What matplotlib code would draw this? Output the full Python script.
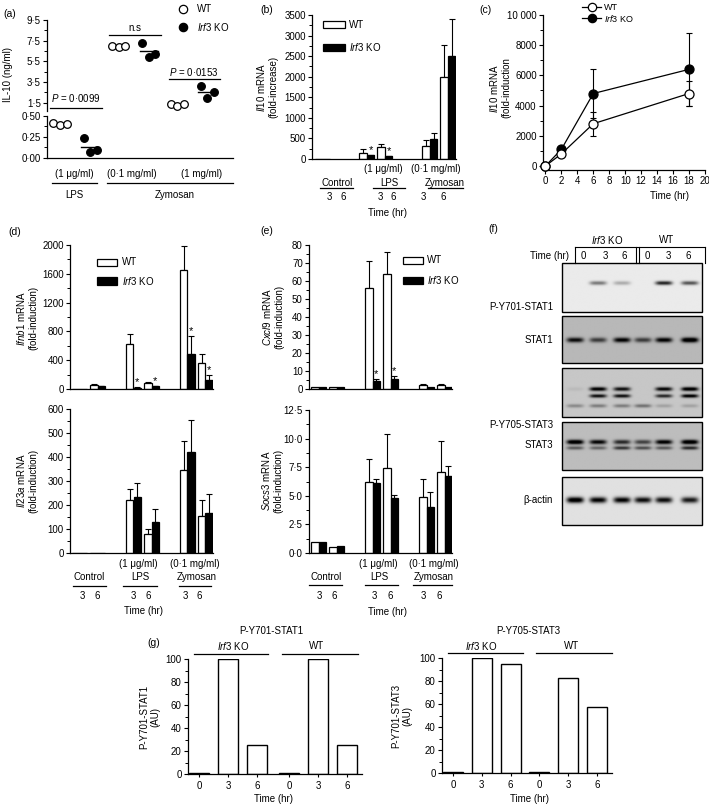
import numpy as np
import matplotlib
matplotlib.use('Agg')
import matplotlib.pyplot as plt
from matplotlib.lines import Line2D
from matplotlib.patches import Rectangle
from matplotlib.ticker import MultipleLocator, FuncFormatter

plt.rcParams['font.family'] = ['Liberation Sans', 'DejaVu Sans']
plt.rcParams['mathtext.fontset'] = 'custom'
plt.rcParams['mathtext.rm'] = 'Liberation Sans'
plt.rcParams['mathtext.it'] = 'Liberation Sans:italic'
plt.rcParams['font.size'] = 7

# ---------------- data ----------------
# (a) IL-10 protein (ng/ml), three mice each
a_wt_lps = [0.42, 0.39, 0.40]
a_ko_lps = [0.24, 0.07, 0.09]
a_wt_zy01 = [7.0, 6.9, 7.0]
a_ko_zy01 = [7.3, 5.9, 6.2]
a_wt_zy1 = [1.4, 1.2, 1.4]
a_ko_zy1 = [3.1, 2.0, 2.5]

# bar order: control 3h, control 6h, LPS 3h, LPS 6h, zymosan 3h, zymosan 6h
b_wt = [1, 1, 145, 290, 325, 2000]
b_wt_err = [0, 0, 95, 80, 140, 770]
b_ko = [1, 1, 90, 65, 490, 2500]
b_ko_err = [0, 0, 15, 10, 140, 900]

c_time = [0, 2, 6, 18]
c_wt = [0, 800, 2800, 4800]
c_wt_err = [0, 0, 800, 800]
c_ko = [0, 1100, 4800, 6400]
c_ko_err = [0, 0, 1600, 2400]

ifnb1_wt = [1, 60, 620, 80, 1650, 360]
ifnb1_wt_err = [0, 10, 140, 20, 330, 120]
ifnb1_ko = [1, 40, 20, 35, 490, 130]
ifnb1_ko_err = [0, 5, 5, 5, 250, 60]

il23a_wt = [1, 1, 220, 80, 345, 155]
il23a_wt_err = [0, 0, 45, 20, 120, 65]
il23a_ko = [1, 1, 235, 130, 420, 165]
il23a_ko_err = [0, 0, 55, 55, 135, 80]

cxcl9_wt = [1, 1, 56, 64, 2.2, 2.2]
cxcl9_wt_err = [0, 0, 15, 12, 0.3, 0.3]
cxcl9_ko = [1, 1, 4.5, 5.5, 1, 1]
cxcl9_ko_err = [0, 0, 1, 1.5, 0, 0]

socs3_wt = [1.0, 0.55, 6.2, 7.4, 4.9, 7.1]
socs3_wt_err = [0, 0, 2.0, 3.0, 1.6, 2.7]
socs3_ko = [1.0, 0.6, 6.1, 4.8, 4.0, 6.7]
socs3_ko_err = [0, 0, 0.4, 0.3, 1.3, 0.9]

# western blot band intensities per lane (KO 0,3,6 | WT 0,3,6)
pstat1_band = [0, 0.45, 0.25, 0, 0.8, 0.6]
stat1_band = [0.7, 0.5, 0.75, 0.5, 0.75, 0.9]
pstat3_band_top = [0.05, 0.85, 0.75, 0, 0.8, 0.9]
pstat3_band_low = [0, 0.75, 0.75, 0, 0.65, 0.85]
pstat3_band_faint = [0.25, 0.3, 0.3, 0.35, 0.15, 0.15]
stat3_band_top = [0.9, 0.75, 0.6, 0.5, 0.8, 0.9]
stat3_band_low = [0.4, 0.35, 0.55, 0.45, 0.4, 0.6]
actin_band = [1.0, 0.9, 0.9, 0.85, 0.85, 0.8]

g_labels = ['0', '3', '6', '0', '3', '6']
g_pstat1 = [1, 100, 25, 1, 100, 25]
g_pstat3 = [1, 100, 95, 1, 83, 57]

# ---------------- helpers ----------------
W, H = 709, 805
fig = plt.figure(figsize=(W / 100, H / 100), dpi=100)


def box(x0, y0, x1, y1):
    return fig.add_axes([x0 / W, 1 - y1 / H, (x1 - x0) / W, (y1 - y0) / H])


def ftext(x, y, s, **kw):
    kw.setdefault('ha', 'center')
    kw.setdefault('va', 'center')
    kw.setdefault('fontsize', 7)
    fig.text(x / W, 1 - y / H, s, **kw)


def fline(x0, x1, y, lw=0.9):
    fig.add_artist(Line2D([x0 / W, x1 / W], [1 - y / H, 1 - y / H], color='k', lw=lw))


def frect(x0, y0, x1, y1, fc):
    fig.add_artist(Rectangle((x0 / W, 1 - y1 / H), (x1 - x0) / W, (y1 - y0) / H,
                             fc=fc, ec='k', lw=0.9, transform=fig.transFigure))


def style(ax, xaxis=False):
    for s in ['top', 'right']:
        ax.spines[s].set_visible(False)
    for s in ['left', 'bottom']:
        ax.spines[s].set_linewidth(0.9)
    ax.tick_params(direction='out', length=3, width=0.8, labelsize=7, pad=1.5)
    ax.tick_params(which='minor', length=2, width=0.7)
    if not xaxis:
        ax.set_xticks([])


dot1 = FuncFormatter(lambda v, p: f'{v:.1f}'.replace('.', '·'))
dot2 = FuncFormatter(lambda v, p: f'{v:.2f}'.replace('.', '·'))


def bar_panel(ax, centers, wt, wt_err, ko, ko_err, stars=()):
    xs_wt, xs_ko = [], []
    for c in centers:
        for t in (0, 1):
            pc = c + (t - 0.5) * 18
            xs_wt.append(pc - 3.75)
            xs_ko.append(pc + 3.75)
    ax.bar(xs_wt, wt, width=7.5, color='white', edgecolor='k', lw=0.9, zorder=2)
    ax.bar(xs_ko, ko, width=7.5, color='k', edgecolor='k', lw=0.9, zorder=2)
    for xs, v, e in ((xs_wt, wt, wt_err), (xs_ko, ko, ko_err)):
        for x, vv, ee in zip(xs, v, e):
            if ee > 0:
                ax.errorbar(x, vv, yerr=[[0], [ee]], fmt='none', ecolor='k',
                            elinewidth=0.8, capsize=2.2, capthick=0.8, zorder=1)
    for i in stars:
        ax.text(xs_ko[i], ko[i] + ko_err[i], '*', ha='center', va='bottom', fontsize=8)


def below_labels(items, lines, nums, num_y, time_xy):
    for x, y, s in items:
        ftext(x, y, s)
    for x0, x1, y in lines:
        fline(x0, x1, y)
    for x, s in zip(nums, ['3', '6'] * 3):
        ftext(x, num_y, s)
    ftext(time_xy[0], time_xy[1], 'Time (hr)')


# ---------------- (a) ----------------
axa_u = box(47, 20, 233, 111)
axa_l = box(47, 116, 233, 158)
for ax in (axa_u, axa_l):
    style(ax)
    ax.set_xlim(0, 186)
axa_u.spines['bottom'].set_visible(False)
axa_u.set_ylim(0.7, 9.5)
axa_u.set_yticks([1.5, 3.5, 5.5, 7.5, 9.5])
axa_u.set_yticks([2.5, 4.5, 6.5, 8.5], minor=True)
axa_u.yaxis.set_major_formatter(dot1)
axa_l.set_ylim(0, 0.5)
axa_l.set_yticks([0, 0.25, 0.5])
axa_l.set_yticks([0.125, 0.375], minor=True)
axa_l.yaxis.set_major_formatter(dot2)

a_sets = [(a_wt_lps, a_ko_lps), (a_wt_zy01, a_ko_zy01), (a_wt_zy1, a_ko_zy1)]
jit = np.array([-6.5, 0, 6.5])
for g, (wt, ko) in enumerate(a_sets):
    ax = axa_l if g == 0 else axa_u
    cw = 13 + 58.5 * g
    for c, vals, fc in ((cw, wt, 'white'), (cw + 30, ko, 'k')):
        ax.plot(c + jit, vals, 'o', ms=5.5, mfc=fc, mec='k', mew=0.9, clip_on=False, zorder=3)
        ax.plot([c - 9, c + 9], [np.mean(vals)] * 2, color='k', lw=1, zorder=2)

axa_u.plot([3, 55], [1.02, 1.02], color='k', lw=0.9, clip_on=False)
axa_u.text(29, 1.95, r'$\mathit{P}$ = 0·0099', ha='center', va='center', fontsize=7)
axa_u.plot([62, 114], [8.05, 8.05], color='k', lw=0.9)
axa_u.text(88, 8.75, 'n.s', ha='center', va='center', fontsize=7)
axa_u.plot([122, 173], [3.8, 3.8], color='k', lw=0.9)
axa_u.text(147, 4.5, r'$\mathit{P}$ = 0·0153', ha='center', va='center', fontsize=7)

ftext(8, 75, 'IL-10 (ng/ml)', rotation=90)
ftext(74, 174, '(1 μg/ml)')
ftext(132, 174, '(0·1 mg/ml)')
ftext(202, 174, '(1 mg/ml)')
fline(52, 97, 183)
fline(107, 233, 183)
ftext(74, 195, 'LPS')
ftext(175, 195, 'Zymosan')
fig.add_artist(Line2D([183 / W], [1 - 9 / H], marker='o', ms=6, mfc='white', mec='k', mew=0.9))
fig.add_artist(Line2D([183 / W], [1 - 27 / H], marker='o', ms=6, mfc='k', mec='k', mew=0.9))
ftext(197, 9, 'WT', ha='left')
ftext(197, 27, r'$\mathit{Irf3}$ KO', ha='left')
ftext(10, 14, '(a)', fontsize=7.5)

# ---------------- (b) ----------------
axb_ = box(312, 15, 456, 159)
style(axb_)
axb_.set_xlim(0, 144)
axb_.set_ylim(0, 3500)
axb_.yaxis.set_major_locator(MultipleLocator(500))
axb_.yaxis.set_minor_locator(MultipleLocator(250))
bar_panel(axb_, [1, 63.75, 126.75], b_wt, b_wt_err, b_ko, b_ko_err, stars=(2, 3))
ftext(267, 87, '$\\mathit{Il10}$ mRNA\n(fold-increase)', rotation=90, linespacing=1.2)
frect(323, 21, 345, 28, 'white')
frect(323, 44, 345, 51, 'k')
ftext(349, 25, 'WT', ha='left')
ftext(349, 47, r'$\mathit{Irf3}$ KO', ha='left')
below_labels([(383, 169, '(1 μg/ml)'), (436, 169, '(0·1 mg/ml)'), (337, 183, 'Control'),
              (389, 183, 'LPS'), (445, 183, 'Zymosan')],
             [(320, 353, 188), (373, 405, 188), (428, 463, 188)],
             [329, 343, 380, 393, 423, 443], 197, (388, 213))
ftext(267, 10, '(b)', fontsize=7.5)

# ---------------- (c) ----------------
axc = box(543, 15, 705, 170)
style(axc, xaxis=True)
axc.set_xlim(-0.3, 20)
axc.set_ylim(-265, 10000)
axc.set_xticks(range(0, 21, 2))
axc.set_yticks(range(0, 10001, 2000))
axc.yaxis.set_minor_locator(MultipleLocator(1000))
axc.yaxis.set_major_formatter(FuncFormatter(lambda v, p: '10 000' if v >= 10000 else f'{int(v)}'))
for vals, err in ((c_ko, c_ko_err), (c_wt, c_wt_err)):
    axc.errorbar(c_time, vals, yerr=err, fmt='none', ecolor='k', elinewidth=0.8,
                 capsize=2.5, capthick=0.8, zorder=2)
for vals, fc, z in ((c_ko, 'k', 3), (c_wt, 'white', 4)):
    axc.plot(c_time, vals, '-o', color='k', lw=0.9, ms=6.5, mfc=fc, mec='k', mew=0.9,
             clip_on=False, zorder=z)
ftext(500, 88, '$\\mathit{Il10}$ mRNA\n(fold-induction', rotation=90, linespacing=1.2)
ftext(670, 196, 'Time (hr)')
for y, fc, lab in ((7, 'white', 'WT'), (18, 'k', r'$\mathit{Irf3}$ KO')):
    fig.add_artist(Line2D([582 / W, 601 / W], [1 - y / H] * 2, color='k', lw=0.9))
    fig.add_artist(Line2D([592 / W], [1 - y / H], marker='o', ms=6, mfc=fc, mec='k', mew=0.9))
    ftext(604, y, lab, ha='left', fontsize=6.5)
ftext(485, 10, '(c)', fontsize=7.5)

# ---------------- (d) ----------------
de_centers = [18.5, 72.5, 126.5]
axd1 = box(70, 245, 213, 389)
style(axd1)
axd1.set_xlim(0, 143)
axd1.set_ylim(0, 2000)
axd1.yaxis.set_major_locator(MultipleLocator(400))
axd1.yaxis.set_minor_locator(MultipleLocator(200))
bar_panel(axd1, de_centers, ifnb1_wt, ifnb1_wt_err, ifnb1_ko, ifnb1_ko_err, stars=(2, 3, 4, 5))
ftext(27, 318, '$\\mathit{Ifnb1}$ mRNA\n(fold-induction)', rotation=90, linespacing=1.2)
frect(97, 259, 117, 266, 'white')
frect(97, 277, 117, 285, 'k')
ftext(122, 262, 'WT', ha='left')
ftext(122, 281, r'$\mathit{Irf3}$ KO', ha='left')

axd2 = box(70, 409, 213, 553)
style(axd2)
axd2.set_xlim(0, 143)
axd2.set_ylim(0, 600)
axd2.yaxis.set_major_locator(MultipleLocator(100))
axd2.yaxis.set_minor_locator(MultipleLocator(50))
bar_panel(axd2, de_centers, il23a_wt, il23a_wt_err, il23a_ko, il23a_ko_err)
ftext(27, 481, '$\\mathit{Il23a}$ mRNA\n(fold-induction)', rotation=90, linespacing=1.2)
below_labels([(138, 564, '(1 μg/ml)'), (195, 564, '(0·1 mg/ml)'), (89, 577, 'Control'),
              (140, 577, 'LPS'), (197, 577, 'Zymosan')],
             [(73, 106, 586), (123, 157, 586), (179, 211, 586)],
             [82, 97, 133, 148, 185, 199], 596, (143, 611))
ftext(15, 232, '(d)', fontsize=7.5)

# ---------------- (e) ----------------
axe1 = box(309, 245, 452, 389)
style(axe1)
axe1.set_xlim(0, 143)
axe1.set_ylim(0, 80)
axe1.yaxis.set_major_locator(MultipleLocator(10))
axe1.yaxis.set_minor_locator(MultipleLocator(5))
bar_panel(axe1, de_centers, cxcl9_wt, cxcl9_wt_err, cxcl9_ko, cxcl9_ko_err, stars=(2, 3))
ftext(273, 317, '$\\mathit{Cxcl9}$ mRNA\n(fold-induction)', rotation=90, linespacing=1.2)
frect(403, 257, 423, 264, 'white')
frect(403, 277, 423, 284, 'k')
ftext(427, 260, 'WT', ha='left')
ftext(427, 280, r'$\mathit{Irf3}$ KO', ha='left')

axe2 = box(309, 410, 452, 553)
style(axe2)
axe2.set_xlim(0, 143)
axe2.set_ylim(0, 12.5)
axe2.yaxis.set_major_locator(MultipleLocator(2.5))
axe2.yaxis.set_minor_locator(MultipleLocator(1.25))
axe2.yaxis.set_major_formatter(dot1)
bar_panel(axe2, de_centers, socs3_wt, socs3_wt_err, socs3_ko, socs3_ko_err)
ftext(272, 481, '$\\mathit{Socs3}$ mRNA\n(fold-induction)', rotation=90, linespacing=1.2)
below_labels([(378, 564, '(1 μg/ml)'), (434, 564, '(0·1 mg/ml)'), (326, 577, 'Control'),
              (379, 577, 'LPS'), (434, 577, 'Zymosan')],
             [(309, 342, 585), (365, 398, 585), (413, 452, 585)],
             [319, 334, 374, 390, 423, 439], 596, (387, 612))
ftext(267, 231, '(e)', fontsize=7.5)

# ---------------- (f) western blot ----------------
axf = box(480, 230, 709, 530)
lane_x = [575, 598, 622, 643, 664, 690]
blot_panels = [
    (263, 312, 0.92, [(283, 2.0, pstat1_band)]),
    (316, 363, 0.72, [(340, 2.5, stat1_band)]),
    (368, 417, 0.78, [(389, 2.0, pstat3_band_top), (396, 1.8, pstat3_band_low),
                      (406, 1.8, pstat3_band_faint)]),
    (422, 470, 0.74, [(442, 2.3, stat3_band_top), (448, 1.8, stat3_band_low)]),
    (477, 525, 0.88, [(500, 3.0, actin_band)]),
]
blot_labels = [('P-Y701-STAT1', 307), ('STAT1', 340), ('P-Y705-STAT3', 425),
               ('STAT3', 445), ('β-actin', 500)]
xx = np.linspace(562, 702, 281)
for y0, y1, bg, bands in blot_panels:
    yy = np.linspace(y0, y1, int((y1 - y0) * 2) + 1)
    img = np.full((len(yy), len(xx)), bg)
    for yc, wy, inten in bands:
        for lx, a in zip(lane_x, inten):
            img -= a * np.exp(-((xx[None, :] - lx) / 8.5) ** 4) * np.exp(-((yy[:, None] - yc) / wy) ** 2)
    axf.imshow(np.clip(img, 0, 1), cmap='gray', vmin=0, vmax=1, extent=[562, 702, y1, y0],
               aspect='auto', interpolation='bilinear')
    axf.add_patch(Rectangle((562, y0), 140, y1 - y0, fill=False, ec='k', lw=1))
for lab, y in blot_labels:
    axf.text(553, y, lab, ha='right', va='center', fontsize=7)
axf.plot([575, 705], [247, 247], color='k', lw=0.8)
for x in (575, 636, 639, 705):
    axf.plot([x, x], [247, 263], color='k', lw=0.8)
axf.text(607, 240, r'$\mathit{Irf3}$ KO', ha='center', va='center', fontsize=7)
axf.text(667, 240, 'WT', ha='center', va='center', fontsize=7)
axf.text(569, 256, 'Time (hr)', ha='right', va='center', fontsize=7)
for x, s in zip([583, 605, 624, 647, 668, 688], g_labels):
    axf.text(x, 256, s, ha='center', va='center', fontsize=7)
axf.set_xlim(480, 709)
axf.set_ylim(530, 230)
axf.axis('off')
ftext(493, 229, '(f)', fontsize=7.5)

# ---------------- (g) ----------------
def g_panel(x0, y0, x1, y1, xpos, vals, xlim):
    ax = box(x0, y0, x1, y1)
    style(ax, xaxis=True)
    ax.bar(xpos, vals, width=0.69, color='white', edgecolor='k', lw=1)
    ax.set_xlim(*xlim)
    ax.set_ylim(0, 100)
    ax.yaxis.set_major_locator(MultipleLocator(20))
    ax.yaxis.set_minor_locator(MultipleLocator(10))
    ax.set_xticks(xpos)
    ax.set_xticklabels(g_labels)
    ax.tick_params(axis='x', length=2, pad=3)
    return ax


g_panel(188, 659, 362, 774, [0, 1, 2, 3.1, 4.1, 5.1], g_pstat1, (-0.38, 5.62))
g_panel(442, 658, 612, 773, [0, 1, 2, 3, 4, 5], g_pstat3, (-0.38, 5.52))

ftext(271, 631, 'P-Y701-STAT1')
ftext(528, 631, 'P-Y705-STAT3')
fline(194, 268, 654)
fline(282, 358, 654)
fline(448, 523, 653)
fline(536, 612, 653)
ftext(233, 646, r'$\mathit{Irf3}$ KO')
ftext(317, 646, 'WT')
ftext(481, 646, r'$\mathit{Irf3}$ KO')
ftext(572, 646, 'WT')
ftext(150, 717, 'P-Y701-STAT1\n(AU)', rotation=90, linespacing=1.2)
ftext(402, 716, 'P-Y701-STAT3\n(AU)', rotation=90, linespacing=1.2)
ftext(274, 799, 'Time (hr)')
ftext(530, 799, 'Time (hr)')
ftext(154, 643, '(g)', fontsize=7.5)

fig.savefig('out.png', dpi=100)
